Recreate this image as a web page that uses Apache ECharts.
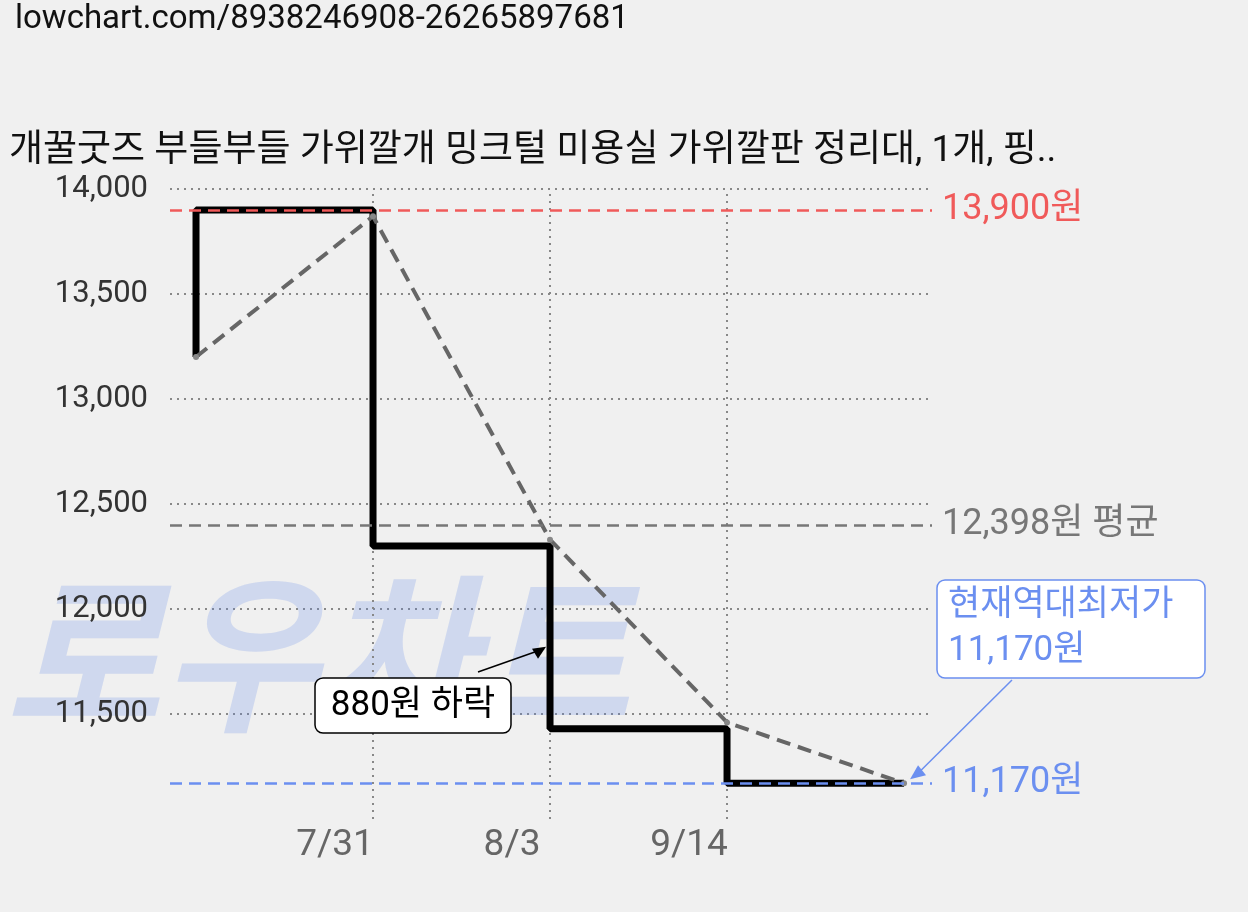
<!DOCTYPE html>
<html><head><meta charset="utf-8">
<script src="https://cdn.jsdelivr.net/npm/echarts@6/dist/echarts.min.js"></script>
<style>html,body{margin:0;padding:0;background:#f0f0f0}#c{width:1248px;height:912px}</style>
</head><body><div id="c"></div>
<script>
const xIdx = [0, 1, 2, 3, 4];
const dateLabels = ['', '7/31', '8/3', '9/14', ''];
const priceValues = [13200, 13900, 12300, 11430, 11170];
const trendValues = [13200, 13870, 12330, 11460, 11170];
const maxPrice = 13900, avgPrice = 12398, minPrice = 11170;
const yTicks = [11500, 12000, 12500, 13000, 13500, 14000];

const chart = echarts.init(document.getElementById('c'));
const F = '"Roboto","Noto Sans CJK KR",sans-serif';
chart.setOption({
  backgroundColor: '#f0f0f0',
  animation: false,
  title: [
    {text: 'lowchart.com/8938246908-26265897681', left: 10, top: -2, textStyle: {fontSize: 33, fontWeight: 'normal', color: '#111', fontFamily: F}},
    {text: '개꿀굿즈 부들부들 가위깔개 밍크털 미용실 가위깔판 정리대, 1개, 핑..', left: 4, top: 128, textStyle: {fontSize: 37, fontWeight: 'normal', color: '#111', fontFamily: F}}
  ],
  grid: {left: 170, right: 316, top: 189, bottom: 93},
  xAxis: {type: 'value', min: -0.147, max: 4.158, axisLine: {show: false}, axisTick: {show: false}, axisLabel: {show: false}, splitLine: {show: false}},
  yAxis: {type: 'value', min: 11000, max: 14000, interval: 500,
    axisLine: {show: false}, axisTick: {show: false},
    axisLabel: {fontSize: 31, color: '#333', fontFamily: F, margin: 22,
      formatter: v => yTicks.includes(v) ? v.toLocaleString('en-US') : ''},
    splitLine: {showMinLine: false, lineStyle: {type: [2, 5], color: '#888', width: 2}}},
  series: [
    {type: 'line', data: [], z: 1,
      markLine: {symbol: 'none', silent: true, z: 1,
        lineStyle: {type: [2, 5], color: '#888', width: 2},
        label: {position: 'start', fontSize: 37, color: '#666', fontFamily: F, distance: 8, offset: [-38, 0]},
        data: xIdx.filter(i => dateLabels[i]).map(i => ({xAxis: i, label: {formatter: dateLabels[i]}}))}},
    {type: 'line', data: xIdx.map((x, i) => [x, trendValues[i]]), symbol: 'circle', symbolSize: 6, showSymbol: true,
      itemStyle: {color: '#888'}, lineStyle: {color: '#666', width: 4, type: [14, 8]}, z: 3},
    {type: 'line', step: 'start', data: xIdx.map((x, i) => [x, priceValues[i]]), symbol: 'none',
      lineStyle: {color: '#000', width: 7}, z: 2,
      markLine: {symbol: 'none', silent: true,
        label: {position: 'end', fontSize: 36, fontFamily: F, distance: 10},
        data: [
          {yAxis: maxPrice, lineStyle: {color: '#f05a5a', type: [12, 7], width: 2.5}, label: {color: '#f05a5a', formatter: maxPrice.toLocaleString('en-US') + '원'}},
          {yAxis: avgPrice, lineStyle: {color: '#777', type: [12, 7], width: 2.5}, label: {color: '#777', formatter: avgPrice.toLocaleString('en-US') + '원 평균'}},
          {yAxis: minPrice, lineStyle: {color: '#6b8ff0', type: [12, 7], width: 2.5}, label: {color: '#6b8ff0', formatter: minPrice.toLocaleString('en-US') + '원'}}
        ]}}
  ]
});
const p1 = chart.convertToPixel({gridIndex: 0}, [2, 11820]);
const p2 = chart.convertToPixel({gridIndex: 0}, [4, minPrice]);
chart.setOption({graphic: [
  {type: 'text', left: 5, top: 590, z: 0, style: {text: '로우차트', fontSize: 170, fontWeight: 'bold', fontStyle: 'italic', fill: 'rgba(90,130,230,0.22)', fontFamily: F}},
  {type: 'line', z: 10, shape: {x1: 478, y1: 672, x2: p1[0] - 6, y2: p1[1] + 2}, style: {stroke: '#000', lineWidth: 1.5}},
  {type: 'polygon', z: 10, shape: {points: [[p1[0] - 4, p1[1]], [p1[0] - 18, p1[1] + 2], [p1[0] - 12, p1[1] + 12]]}, style: {fill: '#000'}},
  {type: 'rect', z: 10, shape: {x: 315, y: 678, width: 196, height: 55, r: 8}, style: {fill: '#fff', stroke: '#000', lineWidth: 1.5}},
  {type: 'text', z: 11, x: 413, y: 706, style: {text: '880원 하락', fontSize: 35, fill: '#000', align: 'center', verticalAlign: 'middle', fontFamily: F}},
  {type: 'line', z: 10, shape: {x1: 1012, y1: 680, x2: p2[0] + 12, y2: p2[1] - 8}, style: {stroke: '#6b8ff0', lineWidth: 1.5}},
  {type: 'polygon', z: 10, shape: {points: [[p2[0] + 6, p2[1] - 4], [p2[0] + 14, p2[1] - 18], [p2[0] + 22, p2[1] - 8]]}, style: {fill: '#6b8ff0'}},
  {type: 'rect', z: 10, shape: {x: 937, y: 580, width: 268, height: 98, r: 8}, style: {fill: '#fff', stroke: '#6b8ff0', lineWidth: 1.5}},
  {type: 'text', z: 11, x: 948, y: 584, style: {text: '현재역대최저가\n11,170원', fontSize: 35, lineHeight: 45, fill: '#6b8ff0', fontFamily: F}}
]});
</script></body></html>
